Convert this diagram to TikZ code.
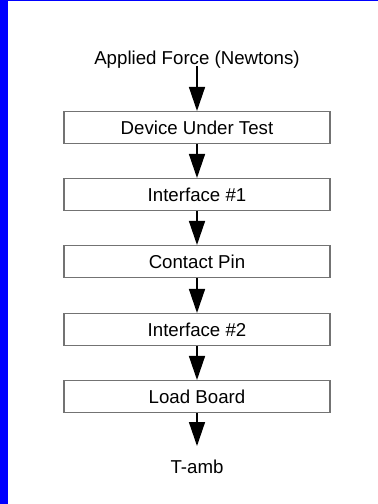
\documentclass[tikz,border=0pt]{standalone}
\usepackage{fontspec}
\setmainfont{Liberation Sans}
\usetikzlibrary{arrows.meta}
\definecolor{frameblue}{RGB}{0,0,255}
\begin{document}
\begin{tikzpicture}[x=0.75pt,y=-0.75pt,
  stagebox/.style={draw=black!55, line width=0.8pt, minimum width=199.5pt, minimum height=24pt, inner sep=0pt, font=\fontsize{14}{16}\selectfont},
  lbl/.style={inner sep=0pt, font=\fontsize{14}{16}\selectfont},
  flow/.style={draw=black, line width=1.1pt, -{Triangle[length=18pt,width=12pt]}, shorten >=0pt}
]
\useasboundingbox (0,0) rectangle (378,504);
\fill[white] (0,0) rectangle (378,504);
\fill[frameblue] (0,0) rectangle (8,504);
\fill[frameblue] (0,0) rectangle (378,1.2);
\node[lbl] (force) at (197,60) {Applied Force (Newtons)};
\node[stagebox] (dut) at (197,127.5) {Device Under Test};
\node[stagebox] (if1) at (197,194.5) {Interface \#1};
\node[stagebox] (pin) at (197,261.5) {Contact Pin};
\node[stagebox] (if2) at (197,329.5) {Interface \#2};
\node[stagebox] (lb) at (197,396.5) {Load Board};
\node[lbl] (tamb) at (197,467) {T-amb};
\coordinate (fs) at (197,66);
\coordinate (ts) at (197,446);
\draw[flow] (fs) -- (dut.north);
\draw[flow] (dut.south) -- (if1.north);
\draw[flow] (if1.south) -- (pin.north);
\draw[flow] (pin.south) -- (if2.north);
\draw[flow] (if2.south) -- (lb.north);
\draw[flow] (lb.south) -- (ts);
\end{tikzpicture}
\end{document}
